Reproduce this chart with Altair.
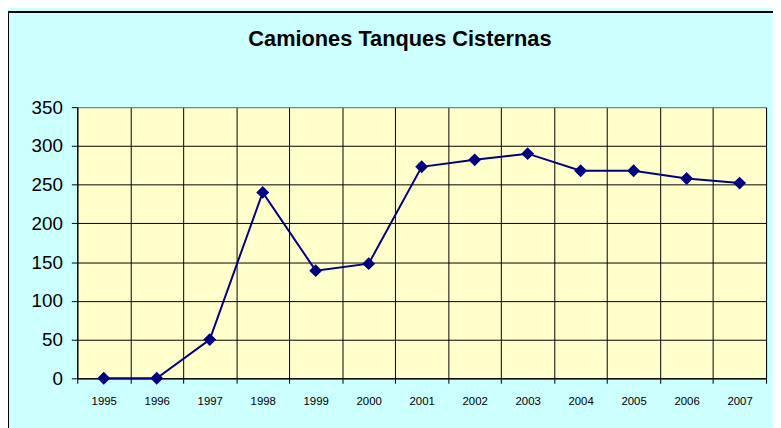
import altair as alt
import pandas as pd

years = ["1995", "1996", "1997", "1998", "1999", "2000", "2001",
         "2002", "2003", "2004", "2005", "2006", "2007"]
values = [0, 0, 50, 240, 139, 148, 273, 282, 290, 268, 268, 258, 252]

df = pd.DataFrame({"year": years, "value": values})

FONT = "Liberation Sans"
NAVY = "#000080"

x = alt.X(
    "year:N",
    sort=years,
    title=None,
    scale=alt.Scale(type="band", paddingInner=0, paddingOuter=0),
    axis=alt.Axis(
        tickBand="extent",
        labelAngle=0,
        labelFont=FONT,
        labelFontSize=11.5,
        labelColor="#000000",
        labelPadding=12,
        tickSize=5,
        tickColor="#000000",
        domainColor="#000000",
        grid=True,
        gridColor="#000000",
        gridWidth=1,
    ),
)
y = alt.Y(
    "value:Q",
    title=None,
    scale=alt.Scale(domain=[0, 350], nice=False),
    axis=alt.Axis(
        values=[0, 50, 100, 150, 200, 250, 300, 350],
        labelFont=FONT,
        labelFontSize=19,
        labelColor="#000000",
        labelPadding=9,
        tickSize=6,
        tickColor="#000000",
        domainColor="#000000",
        grid=True,
        gridColor={"condition": {"test": "datum.value === 350", "value": "#808080"}, "value": "#000000"},
        gridWidth=1,
    ),
)

base = alt.Chart(df)
line = base.mark_line(color=NAVY, strokeWidth=2).encode(x=x, y=y)
pts = base.mark_point(shape="diamond", filled=True, color=NAVY, size=170, opacity=1).encode(x=x, y=y)

border_left = alt.Chart(df).mark_rule(color="#000000", strokeWidth=1).encode(
    x=alt.value(-69.5), y=alt.value(-96), y2=alt.value(330)
)
border_top = alt.Chart(df).mark_rule(color="#000000", strokeWidth=1).encode(
    x=alt.value(-69.5), x2=alt.value(710), y=alt.value(-96)
)

chart = alt.layer(line, pts, border_left, border_top).properties(
    width=696,
    height=274,
    background="#CCFFFF",
    padding={"left": 70, "top": 98, "right": 7, "bottom": 48},
    autosize=alt.AutoSizeParams(type="none"),
    title=alt.TitleParams(
        "Camiones Tanques Cisternas",
        anchor="middle",
        font=FONT,
        fontSize=22,
        fontWeight="bold",
        color="#000000",
        offset=0,
        dy=40,
        dx=-22,
    ),
).configure_view(
    fill="#FFFFCC",
    stroke="#808080",
    strokeWidth=1,
)

chart.save("out.html", embed_options={"renderer": "svg", "actions": False})
